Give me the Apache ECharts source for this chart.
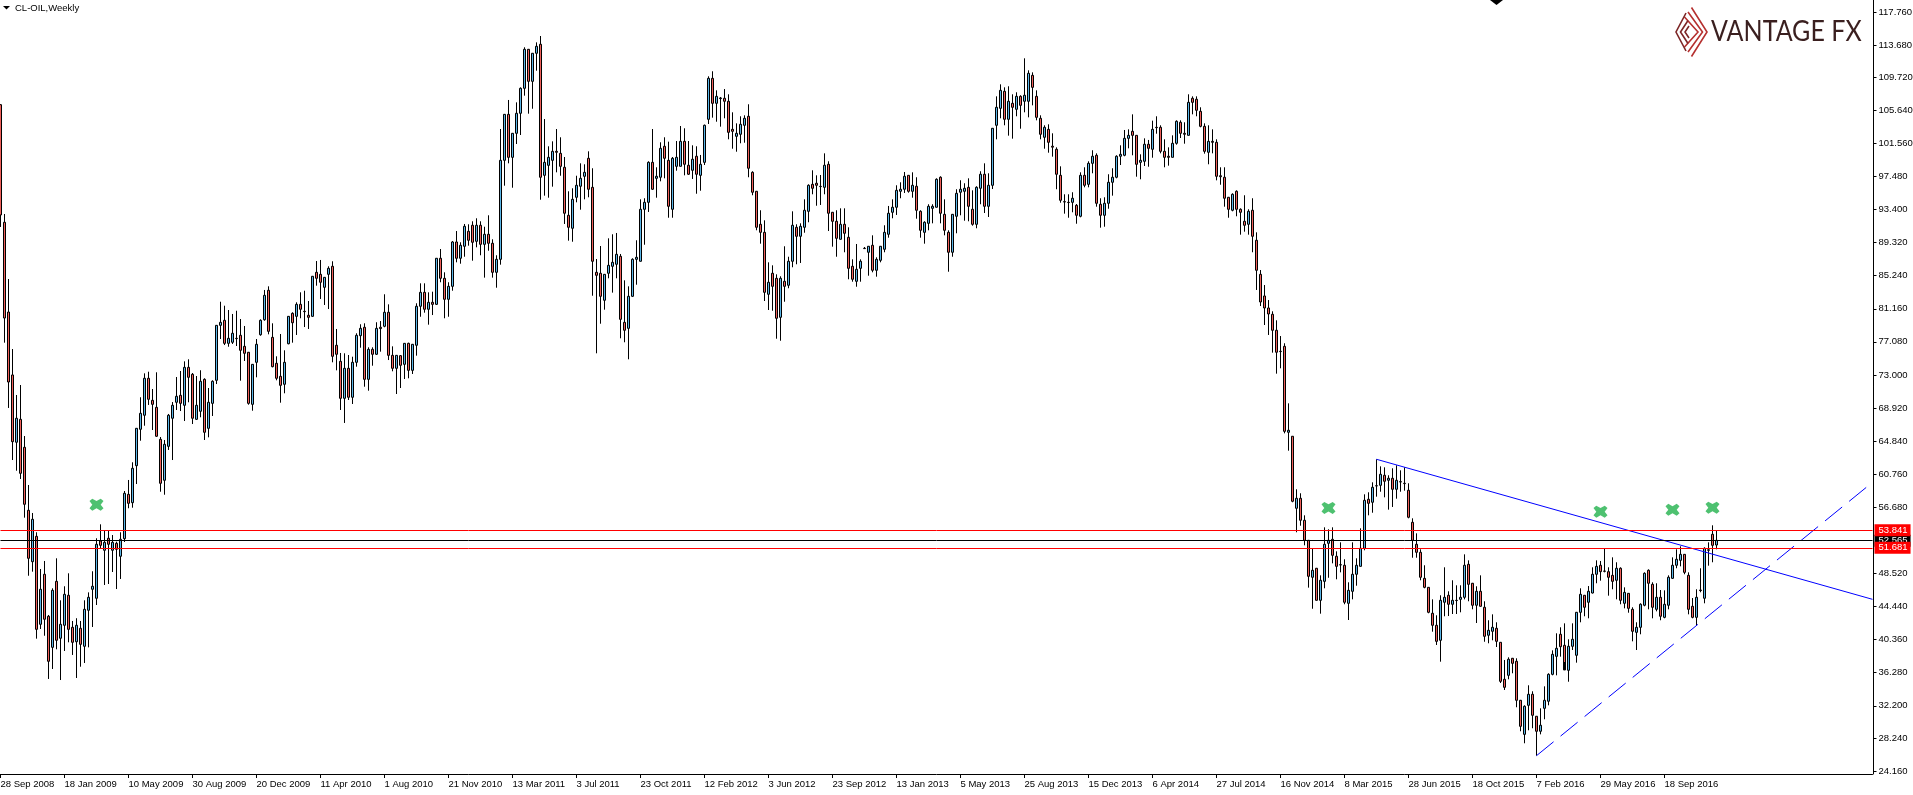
<!DOCTYPE html>
<html><head><meta charset="utf-8">
<style>html,body{margin:0;padding:0;background:#fff;overflow:hidden}#c{width:1913px;height:795px}</style>
<script src="https://cdn.jsdelivr.net/npm/echarts@6/dist/echarts.min.js"></script>
</head><body><div id="c"></div>
<script>
const dateTicks=["28 Sep 2008","18 Jan 2009","10 May 2009","30 Aug 2009","20 Dec 2009","11 Apr 2010","1 Aug 2010","21 Nov 2010","13 Mar 2011","3 Jul 2011","23 Oct 2011","12 Feb 2012","3 Jun 2012","23 Sep 2012","13 Jan 2013","5 May 2013","25 Aug 2013","15 Dec 2013","6 Apr 2014","27 Jul 2014","16 Nov 2014","8 Mar 2015","28 Jun 2015","18 Oct 2015","7 Feb 2016","29 May 2016","18 Sep 2016"];
const priceTicks=[24.16,28.24,32.2,36.28,40.36,44.44,48.52,56.68,60.76,64.84,68.92,73,77.08,81.16,85.24,89.32,93.4,97.48,101.56,105.64,109.72,113.68,117.76];
const opens=[106.33,91.83,80.76,73.0,64.70,67.53,64.08,56.31,49.97,53.10,
42.25,48.42,43.24,39.41,47.55,40.53,42.13,45.83,41.88,40.10,
41.76,39.54,43.98,46.57,45.46,52.52,51.38,52.86,51.38,52.24,
50.64,52.81,58.28,57.25,61.81,66.30,68.03,72.59,69.87,69.01,
65.06,60.01,64.20,67.66,69.63,70.49,69.26,73.94,73.08,67.53,
68.52,72.46,66.42,69.50,72.34,79.12,79.74,76.90,77.03,77.52,
77.89,76.53,75.80,69.38,74.56,77.96,79.81,83.44,77.64,74.44,
72.83,71.85,76.85,80.60,80.23,81.71,80.85,80.36,80.23,85.66,
85.41,83.81,85.41,86.40,76.66,74.68,70.12,73.82,70.25,74.56,
77.84,78.88,72.46,76.16,75.55,78.88,79.0,80.73,75.42,73.82,
75.38,74.31,76.90,73.57,76.66,81.47,83.19,81.10,81.96,81.71,
87.39,84.92,82.33,83.93,89.40,87.39,88.87,90.72,91.46,89.48,
91.46,89.11,90.35,89.24,85.66,87.26,99.47,105.14,99.84,102.80,
105.27,108.35,113.16,109.21,112.67,113.78,97.62,98.85,99.47,100.58,
100.33,98.61,92.69,91.09,94.91,96.27,97.50,99.72,96.14,85.66,
85.54,82.21,85.54,86.40,86.65,87.63,79.49,78.75,82.70,87.26,
87.02,93.43,94.29,99.22,97.25,97.38,101.20,99.47,93.43,98.73,
98.73,101.81,98.86,98.24,99.97,97.62,99.22,104.53,109.58,106.50,
107.08,107.12,106.75,103.29,102.43,102.68,103.79,104.90,97.99,95.65,
91.58,90.59,82.95,85.54,84.92,80.11,84.55,84.06,87.02,91.21,
90.10,91.21,93.18,96.51,96.64,96.26,96.14,98.98,93.06,91.95,
89.73,91.58,89.98,86.40,84.55,86.15,88.62,88.13,88.99,85.91,
87.14,88.50,90.35,93.06,93.68,95.65,95.90,97.62,95.65,96.27,
93.18,90.59,91.70,93.55,93.68,97.38,92.81,90.59,88.13,92.57,
95.53,95.65,96.14,93.43,91.58,96.02,97.75,93.80,96.39,103.79,
105.88,107.98,104.53,106.50,105.76,107.36,106.75,106.75,109.95,107.36,
104.65,102.31,103.29,101.21,100.83,97.62,94.37,94.29,94.29,93.92,
92.57,97.62,96.51,99.10,100.09,94.05,92.69,94.17,96.76,97.38,
99.97,100.09,102.18,103.05,102.55,99.22,99.35,101.45,100.83,103.54,
103.54,100.58,99.97,99.84,101.57,104.16,102.80,102.55,107.12,107.0,
105.51,103.66,100.46,101.81,101.69,97.57,97.38,94.91,93.31,95.65,
93.43,91.95,91.58,93.31,89.61,85.41,82.74,81.26,80.48,78.51,
75.92,76.53,65.93,65.44,56.56,57.79,55.08,52.61,48.05,49.16,
45.21,47.55,52.24,52.73,50.64,49.60,49.53,44.84,46.32,48.42,
49.40,51.62,57.67,57.30,59.34,59.39,60.63,60.01,60.26,58.90,
59.84,59.64,58.78,54.83,52.12,51.13,47.92,46.81,43.61,42.13,
40.28,44.97,45.83,44.72,45.21,45.33,45.58,49.65,47.31,44.60,
46.32,44.35,40.90,41.39,41.76,40.03,35.47,35.96,38.06,37.69,
32.88,28.68,32.26,33.62,30.91,29.06,31.89,32.76,36.08,38.30,
41.02,39.66,36.58,39.54,38.43,43.73,45.83,44.97,46.11,48.42,
49.53,48.82,48.74,48.29,47.68,49.16,44.84,46.07,44.10,41.26,
41.88,44.60,48.91,47.18,44.10,45.58,43.11,44.60,47.92,49.53,
50.14,50.88,48.29,44.47,43.11,46.48,45.46,51.38,53.35,52.03];
const closes=[92.73,80.02,72.13,64.77,67.66,60.87,57.05,50.39,55.20,41.63,
46.57,42.87,37.69,46.44,40.28,42.25,45.95,41.63,40.03,42.13,
39.78,44.10,45.58,46.94,52.12,51.99,52.36,52.12,52.36,51.50,
52.73,58.41,57.17,61.49,66.42,68.27,72.59,70.0,69.38,65.44,
59.64,64.45,68.03,69.26,70.37,69.50,73.94,72.71,67.66,69.26,
72.22,65.93,69.63,72.22,79.12,79.49,76.90,77.52,78.14,77.48,
76.04,75.67,69.50,74.31,76.78,79.74,82.82,78.38,74.02,72.59,
71.72,74.56,80.23,79.44,81.71,81.10,80.81,80.11,85.17,84.92,
84.43,85.04,86.15,75.30,75.55,70.12,73.82,70.25,74.56,77.89,
78.75,72.46,76.16,75.55,78.75,78.72,80.73,75.42,73.82,75.42,
74.19,76.90,73.57,76.78,81.47,83.19,81.10,81.96,81.71,87.39,
84.92,82.33,83.93,89.40,87.39,88.99,91.33,89.61,89.36,91.46,
89.11,90.35,89.24,85.66,87.26,99.47,105.14,99.84,102.80,105.27,
108.35,113.16,109.21,112.67,113.53,97.38,99.22,99.84,100.58,100.46,
98.73,92.94,91.21,94.66,96.39,97.25,97.99,95.90,87.02,85.29,
82.70,85.41,86.52,86.89,87.88,79.86,78.51,82.70,87.26,87.51,
93.43,94.29,99.22,95.90,97.50,100.95,99.72,93.80,99.72,99.84,
101.81,98.98,97.75,99.60,97.75,98.98,103.79,109.58,106.50,107.36,
107.16,106.75,102.92,103.05,102.80,103.91,104.65,98.49,95.53,91.21,
90.59,83.19,84.43,83.93,79.99,84.92,83.93,87.02,91.46,90.10,
91.33,93.31,96.39,96.02,96.39,96.23,98.86,92.94,91.95,89.85,
91.58,90.47,86.15,84.80,86.03,87.02,88.58,88.87,85.91,87.26,
88.87,90.59,92.94,93.68,95.77,95.90,97.50,95.65,96.39,93.31,
90.84,91.83,93.80,93.80,97.13,92.94,90.84,88.13,92.81,95.40,
95.90,96.02,93.80,91.58,96.14,97.75,93.80,96.39,103.42,106.01,
108.10,104.53,106.75,106.01,107.36,106.25,107.49,110.20,108.47,104.77,
102.68,103.54,101.69,101.09,97.75,94.54,94.33,94.26,94.79,92.69,
97.62,96.39,99.10,99.97,94.17,92.69,94.17,96.76,97.38,99.97,
100.21,102.18,102.55,102.55,98.98,99.47,101.45,100.95,103.29,103.50,
100.58,99.84,99.84,101.57,104.28,102.80,102.68,106.62,106.62,105.64,
103.66,100.58,101.81,101.69,97.50,97.45,94.79,93.43,95.28,93.43,
93.06,91.46,93.18,90.10,85.91,82.0,81.26,80.52,78.51,75.80,
75.88,66.05,66.18,57.42,57.79,55.08,52.61,48.17,48.91,45.21,
47.68,52.12,52.61,50.76,49.40,49.57,44.97,46.44,48.42,49.53,
51.62,57.54,57.17,59.15,59.32,60.75,59.89,60.26,58.90,60.01,
59.80,59.60,55.45,52.61,51.13,48.05,46.81,43.73,42.13,40.15,
45.21,45.58,44.72,45.21,45.18,45.58,49.53,47.18,44.60,46.32,
44.47,40.77,41.51,41.88,40.15,35.22,34.48,37.94,37.44,32.88,
29.67,32.14,33.62,31.03,29.06,29.80,32.88,36.08,38.55,39.29,
39.49,36.62,39.54,40.40,43.73,45.95,44.35,46.32,48.42,49.40,
48.74,48.79,48.05,47.55,49.16,45.21,46.19,44.22,41.39,41.88,
44.72,48.54,47.31,44.35,45.58,43.24,44.72,48.05,49.53,50.27,
50.88,48.66,44.10,43.11,45.58,46.41,51.62,51.44,51.99,52.61];
const highs=[106.4,92.85,84.83,76.20,70.53,71.76,65.47,59.43,55.98,53.60,
49.07,50.06,43.40,46.69,50.39,45.21,46.94,48.54,42.66,43.0,
42.66,45.21,46.19,48.79,52.86,54.58,53.76,53.76,53.26,52.44,
53.60,58.69,60.05,62.23,66.46,70.25,73.20,73.40,71.27,73.33,
65.35,64.98,68.19,69.66,72.75,73.49,74.68,74.93,73.24,72.87,
73.58,72.59,71.39,72.34,79.16,82.03,81.54,81.01,80.52,80.92,
79.90,79.04,75.83,74.35,77.43,79.86,83.48,83.93,79.37,75.30,
78.05,76.04,80.27,80.73,81.96,83.19,83.39,82.12,85.20,87.05,
87.18,85.08,86.40,87.02,78.67,75.71,75.67,75.46,75.25,78.14,
79.25,79.37,76.41,76.41,79.50,79.65,82.95,81.71,76.53,75.46,
75.46,76.94,76.98,76.82,81.84,84.30,84.30,83.19,83.27,87.42,
88.53,85.66,84.43,89.52,90.75,89.36,91.62,91.58,91.95,92.32,
91.95,91.28,92.69,89.73,87.76,103.33,105.18,106.91,102.84,106.62,
108.47,113.41,113.20,112.70,114.02,114.80,104.56,101.20,101.81,103.33,
102.31,99.88,95.65,96.02,97.57,99.10,98.98,100.58,98.49,87.30,
88.90,85.45,89.85,90.35,90.51,87.92,84.67,83.93,87.39,89.61,
94.66,94.79,99.35,103.33,98.61,101.69,102.31,101.77,99.88,101.85,
103.70,103.42,101.85,101.32,101.20,100.13,103.88,109.83,110.45,108.10,
107.28,108.26,107.61,105.39,104.03,104.90,105.02,106.38,98.12,95.69,
93.31,92.07,86.89,86.52,85.41,85.17,88.87,87.58,93.18,91.58,
91.70,94.66,96.51,98.24,97.62,97.66,100.33,99.35,93.10,93.31,
93.55,93.55,91.21,87.26,89.15,87.26,88.78,88.90,90.22,87.51,
88.90,91.46,93.84,94.66,96.39,96.76,98.03,97.66,97.99,97.38,
93.31,91.95,94.05,94.05,97.25,97.50,94.66,90.84,92.85,95.90,
97.01,96.64,97.25,95.77,96.27,98.12,99.10,97.87,103.45,107.36,
108.84,108.47,108.60,107.61,107.86,107.49,112.05,110.57,110.32,108.10,
105.02,103.79,103.91,102.80,101.07,98.73,95.28,95.28,95.53,94.08,
97.99,98.61,99.35,100.71,100.33,94.79,94.91,97.75,98.49,100.09,
101.32,103.21,103.29,105.14,102.59,100.21,102.18,101.98,104.36,104.90,
103.79,102.06,101.07,102.55,104.40,104.40,104.16,107.61,107.36,107.36,
106.01,104.03,103.79,103.29,102.06,98.61,98.61,94.95,95.40,95.77,
93.55,95.16,93.43,94.79,90.59,85.94,84.09,82.24,80.85,79.74,
77.80,76.91,69.50,65.47,58.90,58.41,55.69,52.65,51.62,49.20,
48.29,54.21,53.97,54.21,51.25,52.36,50.27,47.43,52.36,50.39,
54.09,58.28,58.53,59.76,62.60,61.73,61.61,60.63,61.49,61.86,
61.24,61.61,59.64,55.32,53.47,51.50,49.53,46.85,45.33,43.36,
45.83,49.28,46.32,47.68,47.06,47.06,50.88,50.14,47.35,46.94,
48.29,45.09,42.75,43.48,42.50,40.07,37.85,38.18,38.10,38.06,
32.92,32.26,34.73,33.99,30.94,31.89,34.60,36.21,39.04,41.14,
41.88,42.37,40.40,42.37,43.77,46.69,45.86,46.97,49.28,50.14,
50.06,51.62,49.28,50.51,49.90,49.28,46.81,46.11,44.35,42.50,
44.84,48.66,49.03,47.43,47.31,46.48,46.44,48.29,50.51,51.50,
51.87,50.92,48.66,45.49,46.57,49.16,51.75,52.36,54.46,53.76];
const lows=[91.25,76.98,68.93,62.51,61.19,60.17,55.40,48.24,48.74,40.48,
41.67,40.84,35.51,36.74,39.17,35.38,38.96,40.03,38.47,35.63,
37.02,37.48,39.41,41.92,44.63,51.62,47.10,47.22,48.70,46.60,
47.84,52.40,56.56,56.63,59.55,64.89,66.74,69.30,66.21,65.35,
58.60,58.23,63.75,62.51,68.68,68.55,67.32,69.63,66.95,67.45,
67.78,64.98,65.31,67.94,71.88,77.43,76.69,76.48,76.82,76.57,
72.29,74.72,69.33,68.59,72.71,77.84,79.69,78.01,73.94,72.34,
69.58,70.74,76.78,76.98,77.93,79.99,78.91,78.67,80.15,84.01,
82.37,81.63,81.13,74.56,73.57,68.68,67.08,69.91,69.42,74.02,
76.36,71.55,71.06,74.14,75.46,75.87,78.88,74.84,73.45,70.65,
71.39,72.50,72.59,73.12,75.38,80.18,80.68,79.20,80.39,81.63,
84.43,79.99,80.18,83.39,86.89,86.72,87.58,88.94,87.09,88.74,
87.76,85.0,88.32,85.0,83.76,86.60,96.34,99.10,96.09,101.48,
102.59,107.44,105.22,105.83,110.52,94.61,95.11,94.86,96.22,97.99,
97.57,91.62,89.56,89.43,94.29,93.38,94.66,94.91,82.77,75.67,
79.32,81.05,84.92,83.15,84.92,77.52,77.03,74.93,82.61,84.13,
86.99,89.06,93.10,95.81,94.86,96.88,97.25,92.39,92.39,98.19,
98.71,97.62,97.66,97.17,95.35,95.72,98.89,103.95,104.73,104.23,
103.62,104.65,102.06,100.90,100.53,101.57,101.64,97.38,95.16,90.84,
89.19,82.12,81.01,80.92,77.47,77.22,82.03,83.69,86.28,86.65,
86.81,90.54,91.83,95.28,93.87,93.96,95.28,90.75,88.82,87.58,
89.71,88.13,84.80,84.50,83.88,84.50,88.53,85.24,85.66,85.12,
86.89,88.13,89.93,92.32,92.73,94.79,95.44,95.48,94.86,92.27,
89.93,89.19,90.84,91.70,93.65,91.70,90.22,85.73,87.58,90.47,
92.69,92.02,91.95,91.41,91.09,94.05,92.97,92.48,95.93,102.06,
104.65,103.79,102.51,102.14,104.90,103.37,105.39,104.77,106.25,104.40,
102.06,100.90,100.41,99.92,95.90,94.24,92.89,92.39,93.06,91.65,
92.44,96.14,96.14,97.87,93.75,91.16,91.28,93.50,95.11,97.25,
98.89,99.97,100.95,100.09,97.45,97.13,98.77,98.68,99.79,102.75,
100.33,98.61,98.81,99.82,101.40,102.22,101.52,102.53,105.14,104.90,
103.54,100.29,98.98,100.33,97.0,96.46,93.75,92.39,93.18,92.57,
90.30,90.67,90.30,88.13,83.48,81.50,79.16,77.93,75.75,73.16,
73.82,65.80,63.66,57.30,53.60,54.41,51.99,46.77,44.17,45.17,
43.56,46.69,47.99,49.77,47.80,48.66,44.72,42.78,45.33,47.01,
49.37,51.38,55.69,56.01,57.99,58.60,57.91,56.39,56.72,57.74,
58.60,58.73,55.32,50.46,50.46,47.68,46.69,43.61,41.34,39.70,
37.64,43.24,43.27,43.52,43.52,43.73,45.33,45.09,44.10,42.41,
44.43,40.10,39.91,40.28,39.45,35.01,34.15,35.47,36.21,32.02,
29.06,27.58,29.18,29.43,26.05,28.68,30.54,32.26,35.96,35.96,
38.26,37.60,35.17,39.08,37.52,42.50,43.24,42.99,46.05,47.31,
47.63,48.66,45.78,46.57,45.33,44.72,44.22,43.68,40.15,39.08,
41.02,44.47,44.10,42.99,43.85,42.75,42.99,44.10,47.84,49.16,
49.40,48.42,43.48,42.99,42.13,46.20,44.84,49.48,49.90,51.50];
const levels=[{price:52.565,label:"52.565",color:"#000000"},{price:53.841,label:"53.841",color:"#ff0000"},{price:51.681,label:"51.681",color:"#ff0000"}];
const marks=[[24,57.0],[332,56.6],[400,56.14],[418,56.38],[428,56.63]];
const resistance=[[344,62.6],[468,45.33]];
const support=[[384,26.05],[468,59.76]];

const BAR_SLOTS=469;
const categories=[];
for(let i=0;i<BAR_SLOTS;i++)categories.push(i%16===0?(dateTicks[i/16]||""):"");
const candles=opens.map((o,i)=>[o,closes[i],lows[i],highs[i]]);
const onTick=i=>i%16===0&&i/16<dateTicks.length;
const FONT='"Liberation Sans"';
const chart=echarts.init(document.getElementById('c'),null,{renderer:'canvas'});
const stroke=(pts,color)=>({type:'polyline',silent:true,shape:{points:pts},style:{stroke:color,lineWidth:1.6,fill:null}});
chart.setOption({
 animation:false,
 backgroundColor:'#ffffff',
 grid:{left:0.5,top:0,width:1872,height:774,containLabel:false,outerBoundsMode:'none'},
 xAxis:{type:'category',data:categories,boundaryGap:false,
  axisLine:{show:true,lineStyle:{color:'#000',width:1},onZero:false},
  axisTick:{show:true,interval:onTick,length:4,lineStyle:{color:'#000',width:1}},
  axisLabel:{show:true,interval:onTick,align:'left',margin:5,color:'#000',fontFamily:FONT,fontSize:9.5,hideOverlap:false},
  splitLine:{show:false}},
 yAxis:{type:'value',position:'right',offset:1,min:23.79,max:119.24,
  axisLine:{show:true,lineStyle:{color:'#000',width:1}},
  axisTick:{show:true,length:3,customValues:priceTicks,lineStyle:{color:'#000',width:1}},
  axisLabel:{show:true,margin:5,color:'#000',fontFamily:FONT,fontSize:9.5,customValues:priceTicks,formatter:v=>v.toFixed(3)},
  splitLine:{show:false}},
 graphic:[
  {type:'polygon',silent:true,shape:{points:[[3,6],[10,6],[6.5,9.5]]},style:{fill:'#000'}},
  {type:'polygon',silent:true,shape:{points:[[1490,0],[1503,0],[1496.5,5]]},style:{fill:'#000'}},
  {type:'text',silent:true,left:15,top:3,style:{text:'CL-OIL,Weekly',fill:'#000',font:'9.5px '+FONT}},
  stroke([[1691.5,7.5],[1707,32],[1691.5,56.5]],'#b5302f'),
  stroke([[1688,12],[1702.5,32],[1688,52]],'#b5302f'),
  stroke([[1684.5,17],[1698,32],[1684.5,47]],'#b5302f'),
  stroke([[1686,13],[1676,32],[1686,51]],'#7c2626'),
  stroke([[1688,20.5],[1680.5,32],[1688,43.5]],'#7c2626'),
  stroke([[1689,26],[1685,32],[1689,38]],'#7c2626'),
  {type:'text',silent:true,x:1711,y:17,scaleX:0.875,style:{text:'VANTAGE FX',fill:'#3a1f1f',font:'400 28.6px Lato'}}
 ],
 series:[
  {type:'candlestick',data:candles,barWidth:2,clip:true,z:3,
   itemStyle:{color:'#5ab6e8',color0:'#ef5f5a',borderColor:'#000',borderColor0:'#000',borderColorDoji:'#000',borderWidth:1},
   markLine:{silent:true,symbol:'none',animation:false,precision:3,
    data:levels.map(l=>({yAxis:l.price,
      lineStyle:{color:l.color,width:1,type:'solid'},
      label:{show:true,position:'end',distance:2,formatter:l.label,color:'#fff',backgroundColor:l.color,fontFamily:FONT,fontSize:9.5,padding:[1,3,1,4]}}))}},
  {type:'line',data:resistance,symbol:'none',silent:true,z:4,lineStyle:{color:'#0000ff',width:1}},
  {type:'line',data:support,symbol:'none',silent:true,z:4,lineStyle:{color:'#0000ff',width:1,type:[22,9]}},
  {type:'scatter',data:marks,silent:true,z:5,symbol:'path://M0,2 L2,0 L5,2 L8,0 L10,2 L8,5 L10,8 L8,10 L5,8 L2,10 L0,8 L2,5 Z',symbolSize:[14,12],itemStyle:{color:'#22b14c'}}
 ]
});
</script></body></html>
